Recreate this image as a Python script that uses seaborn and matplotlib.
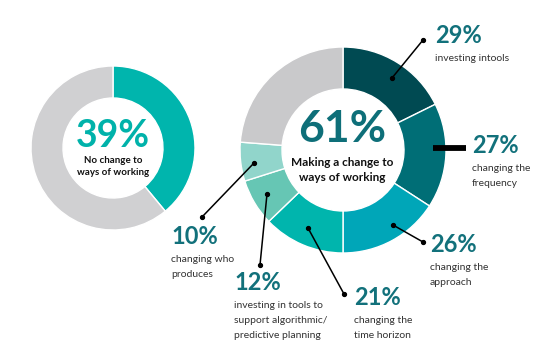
import matplotlib
matplotlib.use("Agg")
import matplotlib.pyplot as plt
import seaborn as sns

# data
left_values = [39, 61]                      # no change / making a change
right_values = [29, 27, 26, 21, 12, 10]     # kinds of change
right_rest = 39                             # grey remainder on the right ring
right_labels = [
    ["investing intools"],
    ["changing the", "frequency"],
    ["changing the", "approach"],
    ["changing the", "time horizon"],
    ["investing in tools to", "support algorithmic/", "predictive planning"],
    ["changing who", "produces"],
]
left_caption = ["No change to", "ways of working"]
right_caption = ["Making a change to", "ways of working"]

sns.set_theme(style="white")
plt.rcParams["font.family"] = ["Lato", "DejaVu Sans"]

W, H = 558, 353
def py(y):
    return H - y

grey_l = "#d0d0d2"
grey_r = "#c9c9cb"
teal_l = "#00b5ad"
ring_colors = ["#004a52", "#006e76", "#00a6b8", "#00b5ad", "#66c6b4", "#91d5cb"]
pct_color = "#12717b"
txt_color = "#333333"

fig = plt.figure(figsize=(W / 100, H / 100), dpi=100)
ax = fig.add_axes([0, 0, 1, 1])

ax.pie(left_values, colors=[teal_l, grey_l], startangle=90, counterclock=False,
       radius=82, center=(113, py(148)),
       wedgeprops=dict(width=32, edgecolor="white", linewidth=1))
ax.pie(right_values + [right_rest], colors=ring_colors + [grey_r], startangle=90,
       counterclock=False, radius=103, center=(343, py(150)),
       wedgeprops=dict(width=42, edgecolor="white", linewidth=1))

ax.set_xlim(0, W)
ax.set_ylim(0, H)
ax.set_aspect("equal")
ax.axis("off")

# centre texts
ax.text(113, py(147), f"{left_values[0]}%", ha="center", va="baseline",
        fontsize=27, fontweight="bold", color="#00b2aa")
for i, line in enumerate(left_caption):
    ax.text(113, py(163 + 12 * i), line, ha="center", va="baseline",
            fontsize=7, fontweight="bold", color="#111111")
ax.text(342, py(142), f"{100 - left_values[0]}%", ha="center", va="baseline",
        fontsize=32, fontweight="bold", color="#0e6f79")
for i, line in enumerate(right_caption):
    ax.text(342, py(166 + 15 * i), line, ha="center", va="baseline",
            fontsize=8.5, fontweight="bold", color="#111111")

# label layout: (x, percentage baseline) and leader line ends
label_pos = [(435, 43), (472, 153), (430, 252), (354, 305), (234, 290), (171, 244)]
leaders = [((392, 78), (423, 40)), None, ((393, 225), (423, 242)),
           ((308, 228), (344, 294)), ((267, 194), (260, 265)), ((254, 163), (202, 217))]

for val, lines, (x, yb), lead in zip(right_values, right_labels, label_pos, leaders):
    ax.text(x, py(yb), f"{val}%", ha="left", va="baseline",
            fontsize=17, fontweight="bold", color=pct_color)
    for i, line in enumerate(lines):
        ax.text(x, py(yb + 18 + 15 * i), line, ha="left", va="baseline",
                fontsize=7.5, color=txt_color)
    if lead is not None:
        (x1, y1), (x2, y2) = lead
        ax.plot([x1, x2], [py(y1), py(y2)], color="black", lw=1.1,
                marker="o", markersize=2.8)

# the thick bar pointing at the 27% wedge
ax.plot([433, 466], [py(148), py(148)], color="black", lw=4.2, solid_capstyle="butt")

fig.savefig("out.png", dpi=100, facecolor="white")
